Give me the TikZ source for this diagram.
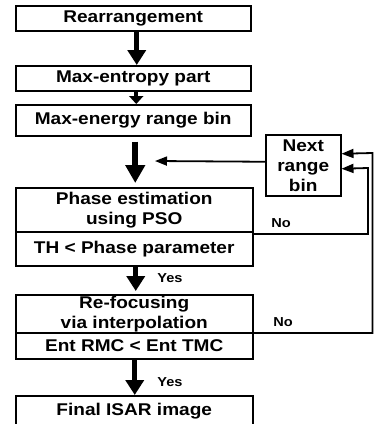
\documentclass[tikz,border=0pt]{standalone}
\usepackage{fontspec}
\setmainfont[FakeStretch=1.12]{Liberation Sans}
\usetikzlibrary{arrows.meta,calc}
\begin{document}
\begin{tikzpicture}[x=1pt,y=-1pt,
  box/.style={draw,line width=1.5pt,inner sep=0pt,anchor=north west,align=center,
    font=\bfseries\fontsize{17}{20}\selectfont},
  lab/.style={inner sep=0pt,font=\bfseries\fontsize{13}{15}\selectfont},
  bigarr/.style={line width=5pt,-{Triangle[length=15pt,width=18pt]}},
  smallarr/.style={line width=4pt,-{Triangle[length=8pt,width=14pt]}},
  hugearr/.style={line width=6pt,-{Triangle[length=18pt,width=19pt]}},
  loopline/.style={line width=1.8pt,-{Triangle[length=12pt,width=9pt]}}]
\useasboundingbox (0,0) rectangle (374,424);

\node[box,minimum width=235pt,minimum height=25pt] (rearr) at (15,5) {Rearrangement};
\node[box,minimum width=235pt,minimum height=25pt] (entp) at (15,65) {Max-entropy part};
\node[box,minimum width=235pt,minimum height=31pt] (ebin) at (15,104) {Max-energy range bin};
\node[box,minimum width=237pt,minimum height=44pt] (phase) at (15,187) {Phase estimation\\using PSO};
\node[box,minimum width=237pt,minimum height=34pt] (th) at (15,231) {TH < Phase parameter};
\node[box,minimum width=237pt,minimum height=38pt] (refoc) at (15,294) {Re-focusing\\via interpolation};
\node[box,minimum width=237pt,minimum height=26pt] (ent) at (15,332) {Ent RMC < Ent TMC};
\node[box,minimum width=237pt,minimum height=30pt] (final) at (15,395) {Final ISAR image};
\node[box,minimum width=75pt,minimum height=61pt] (next) at (265,134) {Next\\range\\bin};

\node[lab] (no1) at (281,223) {No};
\node[lab] (no2) at (283,322) {No};
\node[lab] (yes1) at (170,278) {Yes};
\node[lab] (yes2) at (170,382) {Yes};

\draw[bigarr] ([xshift=3.5pt]rearr.south) -- ([xshift=3.5pt]entp.north);
\draw[smallarr] ([xshift=3pt]entp.south) -- ([xshift=3pt]ebin.north);
\draw[hugearr,shorten <=5pt,shorten >=4pt] ([xshift=2pt]ebin.south) -- ([xshift=1pt]phase.north);
\draw[bigarr,shorten >=3pt] ([xshift=1.5pt]th.south) -- ([xshift=1.5pt]refoc.north);
\draw[bigarr] ([xshift=0.5pt]ent.south) -- ([xshift=0.5pt]final.north);

\coordinate (m) at (155,161);
\draw[loopline] ([yshift=3.5pt]next.west) -- (m);

\coordinate (r1) at (368,168);
\draw[loopline] ([yshift=-3pt]th.north east) -| (r1) -- ([yshift=-3.5pt]next.east);
\coordinate (r2) at (372.5,153);
\draw[loopline] ([yshift=-1pt]ent.north east) -| (r2) -- ([yshift=11.5pt]next.east);
\end{tikzpicture}
\end{document}
